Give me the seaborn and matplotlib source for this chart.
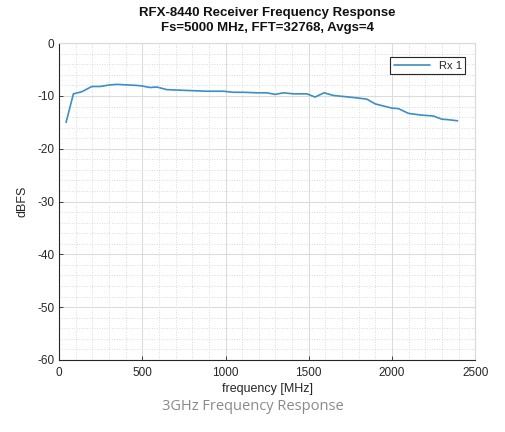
import pandas as pd
import matplotlib.pyplot as plt
from matplotlib.ticker import MultipleLocator
import seaborn as sns

sns.set_theme(style="whitegrid")
plt.rcParams['font.family'] = ['Liberation Sans', 'DejaVu Sans']
plt.rcParams['axes.unicode_minus'] = False

# Values
freq_mhz = [42, 86, 136, 197, 246, 306, 347, 407, 467, 497, 547, 587, 647, 727,
            807, 888, 987, 1047, 1108, 1188, 1248, 1298, 1348, 1408, 1489, 1538,
            1592, 1648, 1739, 1799, 1849, 1899, 1949, 1999, 2039, 2099, 2170,
            2249, 2300, 2340, 2394]
level_dbfs = [-15.0, -9.6, -9.2, -8.2, -8.2, -7.9, -7.8, -7.9, -8.0, -8.1, -8.4,
              -8.3, -8.8, -8.9, -9.0, -9.1, -9.1, -9.3, -9.3, -9.4, -9.4, -9.7,
              -9.4, -9.6, -9.6, -10.2, -9.4, -9.9, -10.2, -10.4, -10.6, -11.5,
              -11.9, -12.3, -12.4, -13.3, -13.6, -13.8, -14.4, -14.5, -14.7]

df = pd.DataFrame({"frequency": freq_mhz, "dBFS": level_dbfs, "series": "Rx 1"})

fig = plt.figure(figsize=(5.05, 4.32), dpi=100)
ax = fig.add_axes([0.117, 0.167, 0.824, 0.733])

sns.lineplot(data=df, x="frequency", y="dBFS", hue="series", palette=["#3b8fc2"],
             linewidth=1.2, ax=ax)

ax.set_xlim(0, 2500)
ax.set_ylim(-60, 0)
ax.xaxis.set_major_locator(MultipleLocator(500))
ax.xaxis.set_minor_locator(MultipleLocator(100))
ax.yaxis.set_major_locator(MultipleLocator(10))
ax.yaxis.set_minor_locator(MultipleLocator(2))

ax.grid(which="major", color="#dcdcdc", linewidth=0.8, linestyle="-")
ax.grid(which="minor", color="#cfcfcf", linewidth=0.6, linestyle=(0, (1, 2)))
ax.set_axisbelow(True)

ax.tick_params(which="major", direction="in", length=3, width=0.6, colors="#262626",
               labelsize=8.5, bottom=True, left=True)
ax.tick_params(axis="x", pad=5)
ax.tick_params(which="minor", length=0)
for side in ["left", "bottom"]:
    ax.spines[side].set_color("#262626")
    ax.spines[side].set_linewidth(0.8)
for side in ["top", "right"]:
    ax.spines[side].set_color("#d9d9d9")
    ax.spines[side].set_linewidth(0.8)

ax.set_xlabel("frequency [MHz]", fontsize=9, color="#262626", labelpad=3)
ax.set_ylabel("dBFS", fontsize=9, color="#262626", labelpad=6)
ax.set_title("RFX-8440 Receiver Frequency Response\nFs=5000 MHz, FFT=32768, Avgs=4",
             fontsize=9.5, fontweight="bold", color="#111111", pad=9, linespacing=1.3)

leg = ax.legend(loc="upper right", fontsize=8, frameon=True, fancybox=False,
                title=None, handlelength=3.2, borderpad=0.35,
                bbox_to_anchor=(0.99, 0.975))
leg.get_frame().set_edgecolor("#262626")
leg.get_frame().set_linewidth(0.8)
leg.get_frame().set_alpha(1)

fig.text(0.5, 0.06, "3GHz Frequency Response", ha="center", va="center",
         fontsize=10.5, color="#8a8a8a", family=["Open Sans", "DejaVu Sans"])

fig.savefig("out.png", dpi=100, facecolor="white")
